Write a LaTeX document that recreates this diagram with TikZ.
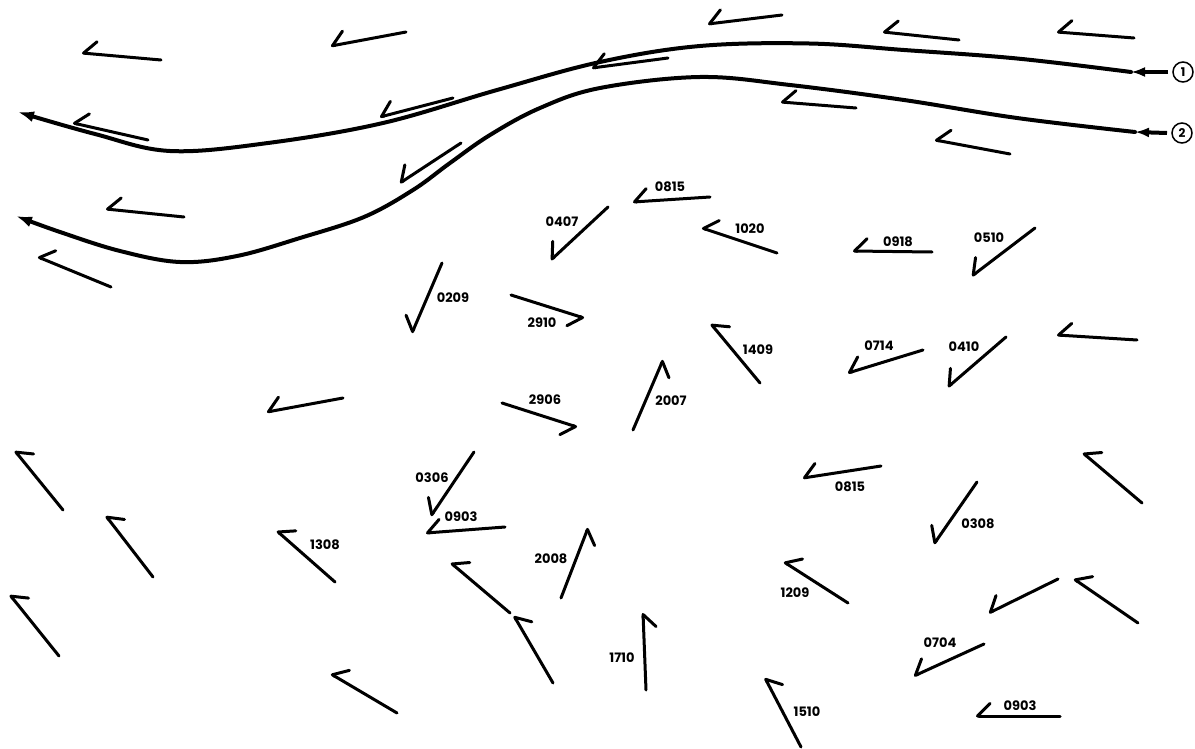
\documentclass[tikz,border=0pt]{standalone}
\usepackage{fontspec}
\setsansfont{Poppins}
\usepackage{tikz}
\usetikzlibrary{arrows.meta}

\tikzset{
  wind/.style={line width=3pt, line cap=round,
    -{Straight Barb[right, length=12.5pt, width=25pt, round]}},
  obs/.style={font=\fontsize{13}{13}\sffamily\bfseries, inner sep=0pt},
  stream/.style={line width=4pt, line cap=round,
    -{Latex[length=16pt, width=11pt]}},
  midtip/.style={line width=4pt, -{Latex[length=14pt, width=10pt]}},
  station/.style={circle, draw, line width=1.5pt, minimum size=20pt,
    inner sep=0pt, outer sep=5pt, font=\fontsize{12}{12}\sffamily\bfseries}
}

\begin{document}
\begin{tikzpicture}[x=1pt, y=-1pt]
  \useasboundingbox (0,0) rectangle (1195,749);

  %% wind vectors without a station label (tail -> head)
  \foreach \xa/\ya/\xb/\yb in {161/60/82/53, 406/32/331/46, 782/15/708/24,
      959/40/883/32, 1134/38/1057/32, 148/140/73/123, 453/98/380/117,
      668/58/592/68, 856/108/781/102, 1010/154/935/140, 461/143/400/183,
      184/217/106/209, 111/287/38/257, 1137/340/1057/335, 343/398/267/412,
      63/510/15/451, 153/577/106/516, 1142/503/1083/453, 510/613/451/563,
      59/656/10/595, 553/683/514/616, 1058/579/989/613, 1138/623/1074/579,
      397/713/331/674} {
    \draw[wind] (\xa,\ya) -- (\xb,\yb);
  }

  %% observed winds with their codes
  \foreach \code/\xa/\ya/\xb/\yb/\lx/\ly [count=\i] in {
      0815/710/197/633/202/670/187, 0407/608/207/551/260/562/222,
      1020/777/253/702/228/750/229, 0918/932/252/853/251/898/242,
      0510/1035/228/972/276/989/238, 0209/442/263/412/333/453/298,
      2910/511/295/584/318/542/323, 1409/760/383/711/324/758/350,
      0714/923/350/848/373/879/346, 0410/1006/337/948/387/964/347,
      2906/502/403/577/427/545/400, 2007/633/430/663/360/671/401,
      0306/474/452/431/516/432/478, 0903/505/527/426/533/461/517,
      0815/881/466/803/478/850/487, 0308/977/482/934/544/978/524,
      1308/335/582/277/531/325/545, 2008/561/598/588/528/551/559,
      1209/848/603/784/562/795/593, 1710/646/690/643/613/622/658,
      0704/984/644/914/676/940/643, 1510/801/747/765/678/807/712,
      0903/1060/716/976/716/1020/706} {
    \draw[wind] (\xa,\ya) -- (\xb,\yb);
    \node[obs] (obs\i) at (\lx,\ly) {\code};
  }

  %% the two trajectories
  \node[station] (s1) at (1183,72) {1};
  \node[station] (s2) at (1182,133) {2};
  \coordinate (m1) at (1131,72);
  \coordinate (m2) at (1135,132);
  \coordinate (e1) at (18,112);
  \coordinate (e2) at (16,216);

  \draw[midtip] (s1.west) -- (m1);
  \draw[midtip] (s2.west) -- (m2);
  \draw[stream] plot[smooth, tension=0.6] coordinates {
    (m1) (1017,58.5) (904,50) (809,43.5) (700,46) (600,62)
    (497,90) (383,123) (268,143) (170,151) (95,134) (e1)};
  \draw[stream] plot[smooth, tension=0.6] coordinates {
    (m2) (1017,118) (904,100) (790,85) (700,77) (600,88) (540,108)
    (490,135) (450,163) (413,190) (364,217) (300,238) (237,256)
    (180,262) (120,251) (60,232) (e2)};
\end{tikzpicture}
\end{document}
